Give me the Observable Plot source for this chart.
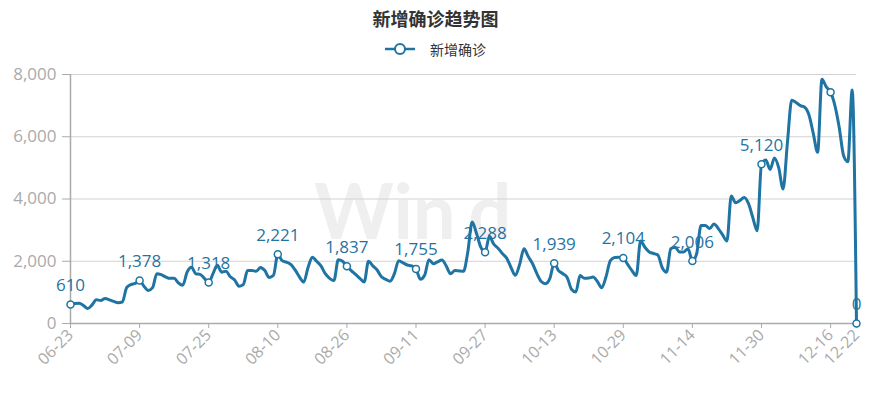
<!DOCTYPE html>
<html><head><meta charset="utf-8">
<script src="https://cdn.jsdelivr.net/npm/d3@7"></script>
<script src="https://cdn.jsdelivr.net/npm/@observablehq/plot@0.6"></script>
<style>
body{margin:0;background:#fff;font-family:"Open Sans","Noto Sans CJK SC",sans-serif;}
#wrap{position:relative;width:871px;height:399px;overflow:hidden;background:#fff;}
#title{position:relative;z-index:2;height:36px;line-height:36px;text-align:center;font-size:18px;font-weight:bold;color:#333;font-family:"Noto Sans CJK SC",sans-serif;}
#legend{position:relative;z-index:2;height:26px;display:flex;justify-content:center;align-items:center;font-size:14px;color:#333;font-family:"Noto Sans CJK SC",sans-serif;}
#legend svg{margin-right:15px;}
#wm{position:absolute;z-index:0;left:314px;top:172px;font-size:76px;line-height:76px;font-weight:bold;color:#efefef;font-family:Lato,sans-serif;word-spacing:-6px;}
#chart{position:relative;z-index:1;}
</style>
</head><body>
<div id="wrap">
  <div id="wm">Win d</div>
  <div id="title">新增确诊趋势图</div>
  <div id="legend"><svg width="30" height="14"><line x1="0" y1="7" x2="30" y2="7" stroke="#1f74a3" stroke-width="2.5"/><circle cx="15" cy="7" r="5" fill="#fff" stroke="#1f74a3" stroke-width="2"/></svg><span>新增确诊</span></div>
  <div id="chart"></div>
</div>
<script>
const seriesName = "新增确诊";
const startDate = "2022-06-23";
const values = [
  610, 640, 650, 580, 480, 600, 760, 740, 800, 760,
  710, 670, 690, 1150, 1250, 1290, 1378, 1200, 1060, 1150,
  1600, 1570, 1500, 1450, 1450, 1300, 1230, 1650, 1810, 1600,
  1580, 1450, 1318, 1600, 1870, 1650, 1680, 1500, 1400, 1200,
  1250, 1700, 1700, 1680, 1800, 1700, 1480, 1550, 2221, 2020,
  1970, 1900, 1720, 1500, 1330, 1800, 2130, 2000, 1850, 1600,
  1450, 1380, 2050, 2000, 1837, 1700, 1580, 1450, 1330, 2000,
  1850, 1720, 1500, 1420, 1360, 1600, 2020, 1950, 1880, 1850,
  1755, 1420, 1550, 2050, 1920, 1980, 2040, 1850, 1600, 1700,
  1690, 1680, 2300, 3260, 2900, 2450, 2288, 2800, 2550, 2420,
  2250, 2100, 1800, 1550, 1900, 2400, 2150, 1920, 1600, 1350,
  1280, 1450, 1939, 1700, 1600, 1480, 1100, 1010, 1540, 1450,
  1460, 1490, 1350, 1150, 1500, 2020, 2120, 2130, 2104, 1900,
  1700, 1540, 2650, 2450, 2300, 2250, 2200, 1800, 1650, 2400,
  2450, 2300, 2300, 2400, 2006, 2250, 3150, 3150, 3050, 3200,
  3050, 2850, 2650, 4100, 3880, 3950, 4050, 3850, 3400, 2980,
  5120, 5250, 4950, 5320, 5000, 4320, 5800, 7170, 7100, 7000,
  6950, 6700, 6100, 5500, 7850, 7600, 7430, 7000, 6300, 5400,
  5200, 7500, 0
];
const tickLabels = ["06-23","07-09","07-25","08-10","08-26","09-11","09-27","10-13","10-29","11-14","11-30","12-16","12-22"];
const hiddenLabels = ["12-16"];
const yTicks = [0, 2000, 4000, 6000, 8000];

const color = "#1f74a3";
const fmtMD = d3.utcFormat("%m-%d");
const fmtNum = d3.format(",");
const start = new Date(startDate + "T00:00:00Z");
const data = values.map((v, i) => ({date: d3.utcDay.offset(start, i), value: v}));
const tickDates = tickLabels.map(s => new Date(`2022-${s}T00:00:00Z`));
const markers = data.filter(d => tickLabels.includes(fmtMD(d.date)));
const labeled = markers.filter(d => !hiddenLabels.includes(fmtMD(d.date)));

const chart = Plot.plot({
  width: 871,
  height: 337,
  marginTop: 12,
  marginBottom: 76,
  marginLeft: 70,
  marginRight: 15,
  style: {fontFamily: '"Open Sans","Noto Sans CJK SC",sans-serif', background: "transparent", overflow: "visible"},
  x: {type: "utc", domain: [data[0].date, data[data.length - 1].date]},
  y: {domain: [0, 8000]},
  marks: [
    Plot.ruleY(yTicks.slice(1), {stroke: "#d2d2d2", strokeWidth: 1.2}),
    Plot.ruleY([0], {stroke: "#aaa", strokeWidth: 1.5}),
    Plot.ruleX([data[0].date], {stroke: "#aaa", strokeWidth: 1.5}),
    Plot.axisY({ticks: yTicks, tickFormat: fmtNum, tickSize: 8, tickPadding: 6, fontSize: 17, color: "#aaa", label: null}),
    Plot.axisX({ticks: tickDates, tickFormat: fmtMD, tickRotate: -45, tickSize: 5, tickPadding: 4, fontSize: 16, color: "#aaa", label: null}),
    Plot.line(data, {x: "date", y: "value", stroke: color, strokeWidth: 3, curve: "monotone-x"}),
    Plot.dot(markers, {x: "date", y: "value", r: 3.5, fill: "white", stroke: color, strokeWidth: 1.5}),
    Plot.text(labeled, {x: "date", y: "value", text: d => fmtNum(d.value), dy: -19, fill: color, fontSize: 17})
  ]
});
document.getElementById("chart").appendChild(chart);
</script>
</body></html>
